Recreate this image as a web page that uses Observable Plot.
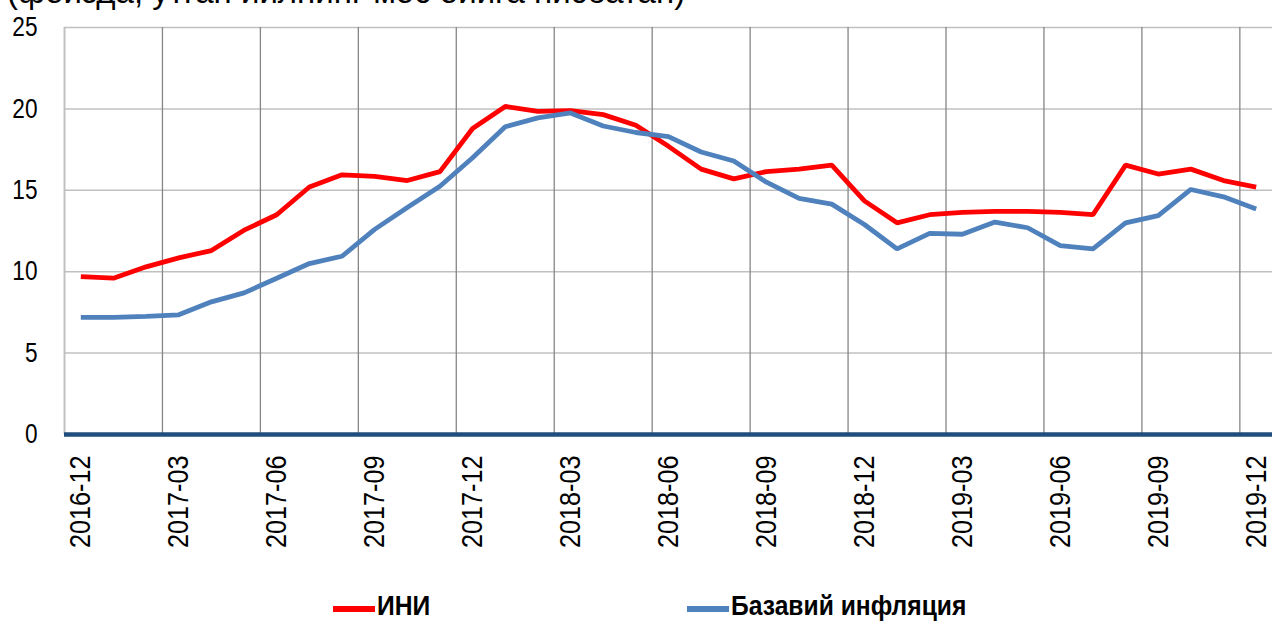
<!DOCTYPE html>
<html>
<head>
<meta charset="utf-8">
<script src="https://cdn.jsdelivr.net/npm/d3@7"></script>
<script src="https://cdn.jsdelivr.net/npm/@observablehq/plot@0.6"></script>
<style>
  html, body { margin: 0; padding: 0; background: #fff; overflow: hidden; }
  #wrap { position: relative; width: 1272px; height: 621px; }
  #title { position: absolute; left: 7px; top: -25px; font-family: "Liberation Sans", Arial, sans-serif; font-size: 33px; line-height: 33px; color: #000; white-space: nowrap; }
  #chart { position: absolute; left: 0; top: 0; }
  .leg { position: absolute; top: 590px; height: 32px; display: flex; align-items: center; font-family: "Liberation Sans Narrow", "Arial Narrow", "Liberation Sans", sans-serif; font-weight: bold; font-size: 28px; color: #000; white-space: nowrap; }
  .leg .sw { width: 42px; height: 6px; margin-right: 2px; margin-top: 6px; }
  .leg .tx { display: inline-block; transform: scaleX(0.88); transform-origin: 0 50%; }
</style>
</head>
<body>
<div id="wrap">
  <div id="title">(фоизда, ўтган йилнинг мос ойига нисбатан)</div>
  <div id="chart"></div>
  <div id="legend"></div>
</div>
<script>
const months = ["2016-12","2017-01","2017-02","2017-03","2017-04","2017-05","2017-06","2017-07","2017-08","2017-09","2017-10","2017-11","2017-12",
  "2018-01","2018-02","2018-03","2018-04","2018-05","2018-06","2018-07","2018-08","2018-09","2018-10","2018-11","2018-12",
  "2019-01","2019-02","2019-03","2019-04","2019-05","2019-06","2019-07","2019-08","2019-09","2019-10","2019-11","2019-12"];
const ini  = [9.7, 9.6, 10.3, 10.85, 11.3, 12.55, 13.5, 15.2, 15.95, 15.85, 15.6, 16.15, 18.8, 20.15, 19.85, 19.9, 19.65, 19.0, 17.7, 16.3, 15.7, 16.15, 16.3, 16.55, 14.35, 13.0, 13.5, 13.65, 13.7, 13.7, 13.65, 13.5, 16.55, 16.0, 16.3, 15.6, 15.2];
const core = [7.2, 7.2, 7.25, 7.35, 8.15, 8.7, 9.6, 10.5, 10.95, 12.6, 13.95, 15.25, 17.0, 18.9, 19.45, 19.75, 18.95, 18.55, 18.3, 17.35, 16.8, 15.5, 14.5, 14.15, 12.9, 11.4, 12.35, 12.3, 13.05, 12.7, 11.6, 11.4, 13.0, 13.45, 15.05, 14.6, 13.85];
const tickLabels = ["2016-12","2017-03","2017-06","2017-09","2017-12","2018-03","2018-06","2018-09","2018-12","2019-03","2019-06","2019-09","2019-12"];
const yTicks = [0, 5, 10, 15, 20, 25];
const seriesNames = ["ИНИ", "Базавий инфляция"];
const seriesColors = ["#ff0000", "#4f81bd"];
const legendLeft = [333, 687];

const rows = [];
months.forEach((m, i) => {
  rows.push({i, series: seriesNames[0], value: ini[i]});
  rows.push({i, series: seriesNames[1], value: core[i]});
});
const tickIdx = tickLabels.map(t => months.indexOf(t));
const vGrid = tickIdx.map(i => i - 0.5);

const font = '"Liberation Sans Narrow", "Arial Narrow", "Liberation Sans", sans-serif';

const chart = Plot.plot({
  width: 1272,
  height: 570,
  marginLeft: 64,
  marginRight: 0,
  marginTop: 27,
  marginBottom: 136,
  style: {fontFamily: font, fontSize: "27px", color: "#000", background: "transparent", overflow: "visible"},
  x: {type: "linear", domain: [-0.5, months.length - 0.5], axis: null},
  y: {domain: [0, 25], axis: null},
  color: {domain: seriesNames, range: seriesColors},
  marks: [
    Plot.ruleY(yTicks.filter(d => d > 0), {stroke: "#c0c0c0", strokeWidth: 1.5}),
    Plot.ruleX(vGrid, {y1: 0, y2: 25, stroke: "#868686", strokeWidth: 1.3}),
    Plot.ruleX([-0.5], {y1: 0, y2: 25, stroke: "#c0c0c0", strokeWidth: 1.5}),
    Plot.ruleY([0], {stroke: "#1f4e7d", strokeWidth: 4.5}),
    Plot.line(rows, {x: "i", y: "value", z: "series", stroke: "series", strokeWidth: 4.8, strokeLinejoin: "miter", strokeLinecap: "butt"}),
    Plot.axisY(yTicks, {tickSize: 0, tickPadding: 27, fontSize: 27, label: null}),
    Plot.axisX(tickIdx, {tickFormat: i => months[i], tickRotate: -90, tickSize: 0, tickPadding: 21, fontSize: 30, label: null})
  ]
});
document.getElementById("chart").appendChild(chart);

// condense tick labels (narrow face is not installed)
d3.select(chart).selectAll("g[aria-label='y-axis tick label'] text, g[aria-label='x-axis tick label'] text").each(function() {
  const len = this.getComputedTextLength();
  this.setAttribute("textLength", (len * 0.84).toFixed(1));
  this.setAttribute("lengthAdjust", "spacingAndGlyphs");
});

// legend
const legend = d3.select("#legend");
seriesNames.forEach((name, k) => {
  const item = legend.append("div").attr("class", "leg").style("left", legendLeft[k] + "px");
  item.append("span").attr("class", "sw").style("background", seriesColors[k]);
  item.append("span").attr("class", "tx").text(name);
});
</script>
</body>
</html>
